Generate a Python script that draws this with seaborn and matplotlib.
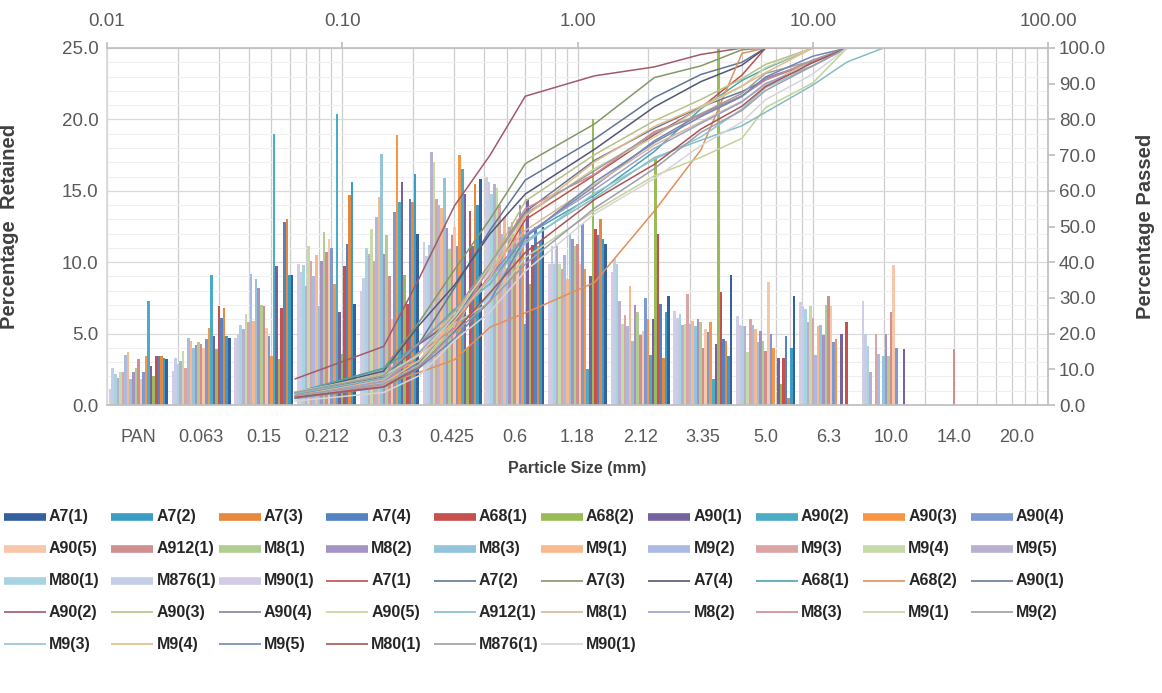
import numpy as np
import pandas as pd
import matplotlib
matplotlib.use("Agg")
import matplotlib.pyplot as plt
from matplotlib.lines import Line2D
from matplotlib.ticker import LogLocator, MultipleLocator, NullLocator, FixedLocator, FixedFormatter
import seaborn as sns

# ---------------------------------------------------------------- data
sieve_labels = ["PAN", "0.063", "0.15", "0.212", "0.3", "0.425", "0.6", "1.18",
                "2.12", "3.35", "5.0", "6.3", "10.0", "14.0", "20.0"]
sieve_sizes = [0.063, 0.15, 0.212, 0.3, 0.425, 0.6, 1.18, 2.12, 3.35, 5.0,
               6.3, 10.0, 14.0, 20.0]
samples = ["A7(1)", "A7(2)", "A7(3)", "A7(4)", "A68(1)", "A68(2)", "A90(1)",
           "A90(2)", "A90(3)", "A90(4)", "A90(5)", "A912(1)", "M8(1)", "M8(2)",
           "M8(3)", "M9(1)", "M9(2)", "M9(3)", "M9(4)", "M9(5)", "M80(1)",
           "M876(1)", "M90(1)"]

# percentage retained on each sieve (PAN ... 20.0)
ret_A7_1 = [3.2, 4.7, 9.1, 7.1, 12.0, 15.8, 12.5, 11.3, 7.6, 9.1, 7.6, 0, 0, 0, 0]
ret_A7_2 = [3.3, 4.8, 9.1, 15.6, 16.2, 14.0, 11.5, 11.6, 6.5, 3.4, 4.0, 0, 0, 0, 0]
ret_A7_3 = [3.4, 6.8, 13.0, 14.7, 14.2, 15.5, 11.1, 13.0, 3.3, 4.5, 0.5, 0, 0, 0, 0]
ret_A7_4 = [3.4, 6.1, 12.8, 11.3, 14.4, 11.1, 12.5, 11.9, 7.1, 4.6, 4.8, 0, 0, 0, 0]
ret_A68_1 = [3.4, 6.9, 6.8, 9.7, 7.1, 13.6, 11.2, 12.3, 12.0, 7.9, 3.3, 5.8, 0, 0, 0]
ret_A68_2 = [2.0, 3.9, 3.2, 3.6, 9.1, 4.0, 8.5, 20.0, 17.2, 27.0, 1.5, 0, 0, 0, 0]
ret_A90_1 = [2.7, 4.8, 9.7, 6.5, 15.6, 14.8, 14.4, 9.0, 6.0, 4.3, 3.3, 5.0, 3.9, 0, 0]
ret_A90_2 = [7.3, 9.1, 19.0, 20.4, 14.2, 16.5, 5.7, 2.5, 3.5, 1.8, 0, 0, 0, 0, 0]
ret_A90_3 = [3.4, 5.4, 3.4, 8.5, 18.9, 17.5, 13.0, 9.5, 6.0, 5.8, 4.0, 4.6, 0, 0, 0]
ret_A90_4 = [2.3, 4.6, 4.8, 11.0, 13.5, 11.1, 14.0, 12.7, 7.5, 5.1, 5.0, 4.4, 4.0, 0, 0]
ret_A90_5 = [1.8, 4.0, 5.4, 11.6, 6.0, 12.5, 13.0, 9.9, 5.2, 5.3, 8.6, 6.9, 9.8, 0, 0]
ret_A912_1 = [3.2, 4.3, 6.9, 10.7, 9.0, 11.9, 12.0, 11.3, 4.9, 4.0, 3.8, 7.6, 6.5, 3.9, 0]
ret_M8_1 = [2.6, 4.4, 7.0, 12.1, 11.9, 10.9, 12.8, 11.1, 6.5, 5.8, 4.5, 7.0, 3.4, 0, 0]
ret_M8_2 = [2.3, 4.2, 8.2, 10.1, 10.6, 12.4, 12.5, 11.6, 7.0, 6.0, 5.2, 4.9, 5.0, 0, 0]
ret_M8_3 = [1.8, 4.0, 8.8, 6.9, 17.6, 15.9, 9.6, 12.0, 4.5, 5.5, 4.4, 5.6, 3.4, 0, 0]
ret_M9_1 = [3.7, 4.5, 5.9, 10.5, 14.6, 13.8, 13.2, 8.8, 8.3, 5.9, 5.3, 5.5, 0, 0, 0]
ret_M9_2 = [3.5, 4.7, 9.2, 9.0, 13.2, 14.0, 12.0, 10.5, 5.5, 5.7, 5.6, 3.5, 3.6, 0, 0]
ret_M9_3 = [2.3, 2.6, 5.8, 10.1, 10.1, 14.4, 14.0, 9.5, 6.3, 7.8, 6.0, 6.1, 5.0, 0, 0]
ret_M9_4 = [2.3, 3.8, 6.4, 11.1, 12.3, 17.0, 15.2, 9.9, 5.7, 5.7, 3.7, 6.9, 0, 0, 0]
ret_M9_5 = [1.9, 3.1, 5.3, 8.3, 10.6, 17.7, 15.5, 11.1, 7.3, 5.6, 5.5, 5.8, 2.3, 0, 0]
ret_M80_1 = [2.2, 2.9, 5.6, 9.8, 11.0, 11.2, 14.8, 9.9, 9.9, 6.4, 5.5, 6.7, 4.1, 0, 0]
ret_M876_1 = [2.6, 3.3, 5.0, 9.3, 8.9, 10.4, 15.6, 11.1, 10.2, 6.1, 5.6, 6.9, 5.0, 0, 0]
ret_M90_1 = [1.1, 2.4, 4.7, 9.9, 8.0, 11.4, 16.0, 9.9, 9.3, 6.6, 6.2, 7.2, 7.3, 0, 0]

# cumulative percentage passing at each sieve size (0.063 ... 20.0 mm)
pass_A7_1 = [3.2, 7.9, 17.0, 24.1, 36.1, 51.9, 64.4, 75.7, 83.3, 92.4, 100, 100, 100, 100]
pass_A7_2 = [3.3, 8.1, 17.2, 32.8, 49.0, 63.0, 74.5, 86.1, 92.6, 96.0, 100, 100, 100, 100]
pass_A7_3 = [3.4, 10.2, 23.2, 37.9, 52.1, 67.6, 78.7, 91.7, 95.0, 99.5, 100, 100, 100, 100]
pass_A7_4 = [3.4, 9.5, 22.3, 33.6, 48.0, 59.1, 71.6, 83.5, 90.6, 95.2, 100, 100, 100, 100]
pass_A68_1 = [3.4, 10.3, 17.1, 26.8, 33.9, 47.5, 58.7, 71.0, 83.0, 90.9, 94.2, 100, 100, 100]
pass_A68_2 = [2.0, 5.9, 9.1, 12.7, 21.8, 25.8, 34.3, 54.3, 71.5, 98.5, 100, 100, 100, 100]
pass_A90_1 = [2.7, 7.5, 17.2, 23.7, 39.3, 54.1, 68.5, 77.5, 83.5, 87.8, 91.1, 96.1, 100, 100]
pass_A90_2 = [7.3, 16.4, 35.4, 55.8, 70.0, 86.5, 92.2, 94.7, 98.2, 100, 100, 100, 100, 100]
pass_A90_3 = [3.4, 8.8, 12.2, 20.7, 39.6, 57.1, 70.1, 79.6, 85.6, 91.4, 95.4, 100, 100, 100]
pass_A90_4 = [2.3, 6.9, 11.7, 22.7, 36.2, 47.3, 61.3, 74.0, 81.5, 86.6, 91.6, 96.0, 100, 100]
pass_A90_5 = [1.8, 5.8, 11.2, 22.8, 28.8, 41.3, 54.3, 64.2, 69.4, 74.7, 83.3, 90.2, 100, 100]
pass_A912_1 = [3.2, 7.5, 14.4, 25.1, 34.1, 46.0, 58.0, 69.3, 74.2, 78.2, 82.0, 89.6, 96.1, 100]
pass_M8_1 = [2.6, 7.0, 14.0, 26.1, 38.0, 48.9, 61.7, 72.8, 79.3, 85.1, 89.6, 96.6, 100, 100]
pass_M8_2 = [2.3, 6.5, 14.7, 24.8, 35.4, 47.8, 60.3, 71.9, 78.9, 84.9, 90.1, 95.0, 100, 100]
pass_M8_3 = [1.8, 5.8, 14.6, 21.5, 39.1, 55.0, 64.6, 76.6, 81.1, 86.6, 91.0, 96.6, 100, 100]
pass_M9_1 = [3.7, 8.2, 14.1, 24.6, 39.2, 53.0, 66.2, 75.0, 83.3, 89.2, 94.5, 100, 100, 100]
pass_M9_2 = [3.5, 8.2, 17.4, 26.4, 39.6, 53.6, 65.6, 76.1, 81.6, 87.3, 92.9, 96.4, 100, 100]
pass_M9_3 = [2.3, 4.9, 10.7, 20.8, 30.9, 45.3, 59.3, 68.8, 75.1, 82.9, 88.9, 95.0, 100, 100]
pass_M9_4 = [2.3, 6.1, 12.5, 23.6, 35.9, 52.9, 68.1, 78.0, 83.7, 89.4, 93.1, 100, 100, 100]
pass_M9_5 = [1.9, 5.0, 10.3, 18.6, 29.2, 46.9, 62.4, 73.5, 80.8, 86.4, 91.9, 97.7, 100, 100]
pass_M80_1 = [2.2, 5.1, 10.7, 20.5, 31.5, 42.7, 57.5, 67.4, 77.3, 83.7, 89.2, 95.9, 100, 100]
pass_M876_1 = [2.6, 5.9, 10.9, 20.2, 29.1, 39.5, 55.1, 66.2, 76.4, 82.5, 88.1, 95.0, 100, 100]
pass_M90_1 = [1.1, 3.5, 8.2, 18.1, 26.1, 37.5, 53.5, 63.4, 72.7, 79.3, 85.5, 92.7, 100, 100]

retained = [ret_A7_1, ret_A7_2, ret_A7_3, ret_A7_4, ret_A68_1, ret_A68_2,
            ret_A90_1, ret_A90_2, ret_A90_3, ret_A90_4, ret_A90_5, ret_A912_1,
            ret_M8_1, ret_M8_2, ret_M8_3, ret_M9_1, ret_M9_2, ret_M9_3,
            ret_M9_4, ret_M9_5, ret_M80_1, ret_M876_1, ret_M90_1]
passed = [pass_A7_1, pass_A7_2, pass_A7_3, pass_A7_4, pass_A68_1, pass_A68_2,
          pass_A90_1, pass_A90_2, pass_A90_3, pass_A90_4, pass_A90_5, pass_A912_1,
          pass_M8_1, pass_M8_2, pass_M8_3, pass_M9_1, pass_M9_2, pass_M9_3,
          pass_M9_4, pass_M9_5, pass_M80_1, pass_M876_1, pass_M90_1]

# ---------------------------------------------------------------- colours
bar_hex = ["#34609F", "#3A9EC4", "#E8883C", "#5383C3", "#C5504E", "#9BBB59",
           "#7762A1", "#4BACC6", "#F79646", "#7E98D0", "#F8C6A8", "#CF8F8F",
           "#B2CD92", "#A594C3", "#93C4D9", "#F8B98F", "#AABAE0", "#DBA5A5",
           "#C7DAAA", "#B9B0CF", "#A8D4E2", "#C6CEE7", "#D3CCE2"]
line_hex = ["#C0504D", "#617694", "#849866", "#545678", "#4DA3B2", "#E0905A",
            "#6A7898", "#A25A6A", "#B9C08A", "#8682A8", "#C3D39A", "#86BCC6",
            "#D6B898", "#98A2CF", "#CE8891", "#C8D4A8", "#9E9E9E", "#92C3CD",
            "#E6BA88", "#7089B5", "#AA5555", "#9E9EAC", "#D6D6D6"]
bar_colors = dict(zip(samples, bar_hex))
line_colors = dict(zip(samples, line_hex))

bars_df = pd.DataFrame({
    "Particle Size": np.tile(sieve_labels, len(samples)),
    "Sample": np.repeat(samples, len(sieve_labels)),
    "Retained": np.concatenate(retained),
})
lines_df = pd.DataFrame({
    "Sieve": np.tile(sieve_sizes, len(samples)),
    "Sample": np.repeat(samples, len(sieve_sizes)),
    "Passed": np.concatenate(passed),
})

# ---------------------------------------------------------------- figure
sns.set_theme(style="white")
plt.rcParams["font.family"] = ["Liberation Sans", "DejaVu Sans"]

W, H = 1162, 693
L, R, T, B = 107, 1048, 48, 405
pos = [L / W, 1 - B / H, (R - L) / W, (B - T) / H]
fig = plt.figure(figsize=(W / 100, H / 100), dpi=100)

tick_col = "#595959"
title_col = "#404040"
axis_col = "#BFBFBF"
tick_fs = 13.5

# background grid: log-spaced verticals, major/minor horizontals
ax_grid = fig.add_axes(pos, zorder=0)
ax_grid.set_xscale("log")
ax_grid.set_xlim(0.01, 100)
ax_grid.set_ylim(0, 25)
ax_grid.xaxis.set_major_locator(LogLocator(base=10))
ax_grid.xaxis.set_minor_locator(LogLocator(base=10, subs=range(2, 10)))
ax_grid.yaxis.set_major_locator(MultipleLocator(5))
ax_grid.yaxis.set_minor_locator(MultipleLocator(1))
ax_grid.grid(which="minor", axis="y", color="#EFEFEF", lw=0.8)
ax_grid.grid(which="major", axis="y", color="#D9D9D9", lw=0.9)
ax_grid.grid(which="both", axis="x", color="#CDCDCD", lw=0.9)
ax_grid.tick_params(which="both", length=0, labelbottom=False, labelleft=False)
for s in ax_grid.spines.values():
    s.set_visible(False)

# clustered bars: percentage retained
ax_bar = fig.add_axes(pos, zorder=1)
ax_bar.patch.set_alpha(0)
sns.barplot(data=bars_df, x="Particle Size", y="Retained", hue="Sample",
            order=sieve_labels, hue_order=samples[::-1], palette=bar_colors,
            width=0.94, saturation=1, errorbar=None, legend=False,
            linewidth=0, ax=ax_bar)
ax_bar.set_ylim(0, 25)
ax_bar.set_yticks(np.arange(0, 26, 5))
ax_bar.set_yticklabels([f"{v:.1f}" for v in np.arange(0, 26, 5)])
ax_bar.tick_params(axis="y", length=0, pad=6, labelsize=tick_fs, labelcolor=tick_col)
ax_bar.tick_params(axis="x", length=0, pad=17, labelsize=13, labelcolor=tick_col)
ax_bar.set_xlabel("Particle Size (mm)", fontsize=11.5, fontweight="bold", color=title_col)
ax_bar.set_ylabel("Percentage  Retained", fontsize=14.5, fontweight="bold", color=title_col)
ax_bar.xaxis.set_label_coords(0.5, -0.156)
ax_bar.yaxis.set_label_coords(-0.094, 0.5)
for side in ("top", "right"):
    ax_bar.spines[side].set_visible(False)
ax_bar.spines["bottom"].set_color(axis_col)
ax_bar.spines["left"].set_color("#D9D9D9")

# grading curves: percentage passing on log sieve axis
ax_line = fig.add_axes(pos, zorder=2)
ax_line.patch.set_alpha(0)
sns.lineplot(data=lines_df, x="Sieve", y="Passed", hue="Sample",
             hue_order=samples, palette=line_colors, estimator=None,
             sort=False, linewidth=1.1, legend=False, ax=ax_line)
ax_line.set_xscale("log")
ax_line.set_xlim(0.01, 100)
ax_line.set_ylim(0, 100)
ax_line.xaxis.tick_top()
ax_line.yaxis.tick_right()
ax_line.xaxis.set_major_locator(FixedLocator([0.01, 0.1, 1, 10, 100]))
ax_line.xaxis.set_major_formatter(FixedFormatter(["0.01", "0.10", "1.00", "10.00", "100.00"]))
ax_line.xaxis.set_minor_locator(NullLocator())
ax_line.set_yticks(np.arange(0, 101, 10))
ax_line.set_yticklabels([f"{v:.1f}" for v in np.arange(0, 101, 10)])
ax_line.tick_params(axis="x", which="major", direction="out", length=4,
                    color=axis_col, pad=9, labelsize=tick_fs, labelcolor=tick_col)
ax_line.tick_params(axis="y", direction="out", length=5, color=axis_col,
                    pad=3, labelsize=tick_fs, labelcolor=tick_col)
ax_line.set_xlabel("")
ax_line.yaxis.set_label_position("right")
ax_line.set_ylabel("Percentage Passed", fontsize=14.5, fontweight="bold",
                   color=title_col, rotation=90)
ax_line.yaxis.set_label_coords(1.0935, 0.5)
for side in ("left", "bottom"):
    ax_line.spines[side].set_visible(False)
for side in ("top", "right"):
    ax_line.spines[side].set_color(axis_col)

# legend laid out row by row, ten entries per row
entries = [(n, "bar", bar_colors[n]) for n in samples] + \
          [(n, "line", line_colors[n]) for n in samples]
for k, (name, kind, col) in enumerate(entries):
    r, c = divmod(k, 10)
    tx = 49 + 107.4 * c
    ty = 517 + 31.8 * r
    lw = 5.5 if kind == "bar" else 1.2
    fig.add_artist(Line2D([(tx - 45) / W, (tx - 3) / W], [1 - ty / H] * 2,
                          transform=fig.transFigure, color=col, lw=lw,
                          solid_capstyle="butt"))
    fig.text(tx / W, 1 - ty / H, name, ha="left", va="center",
             fontsize=11.5, fontweight="bold", color="#262626")

fig.savefig("out.png", dpi=100)
